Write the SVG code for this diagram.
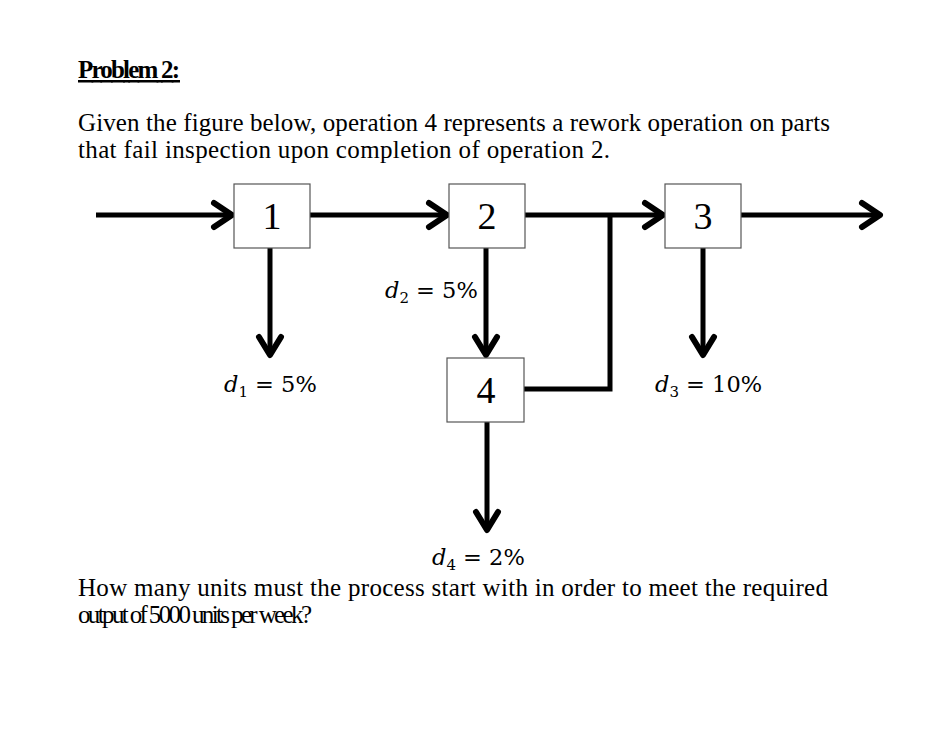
<svg xmlns="http://www.w3.org/2000/svg" width="928" height="749" viewBox="0 0 928 749">
<style>
.t{font-family:"Liberation Serif",serif;font-size:25px;fill:#000}
.n{font-family:"Liberation Serif",serif;font-size:38px;fill:#000;text-anchor:middle}
.m{font-family:"DejaVu Serif","Liberation Serif",serif;font-size:22.5px;fill:#000}
.mi{font-style:italic}
.box{fill:#fff;stroke:#555;stroke-width:1.2}
.c{fill:none;stroke:#000;stroke-width:5}
.h{fill:none;stroke:#000;stroke-width:6;stroke-linecap:round;stroke-linejoin:round}
</style>
<rect width="928" height="749" fill="#fff"/>
<text class="t" x="78" y="78" font-weight="bold" text-decoration="underline" textLength="102">Problem 2:</text>
<text class="t" x="78" y="131" textLength="752">Given the figure below, operation 4 represents a rework operation on parts</text>
<text class="t" x="78" y="158" textLength="532">that fail inspection upon completion of operation 2.</text>
<g id="connectors">
<path class="c" d="M96 215H231M310 215H446M525 215H662M741 215H880M610 215V389H524M270 248V354M486 248V354M703 248V354M487 422V529"/>
<path class="h" d="M214 203L232 215L214 227M429 203L447 215L429 227M645 203L663 215L645 227M862 203L880 215L862 227M259 337L270 355L281 337M475 337L486 355L497 337M692 337L703 355L714 337M476 512L487 530L498 512"/>
</g>
<g id="n1"><rect class="box" x="234" y="184" width="76" height="64"/><text class="n" x="272" y="229">1</text></g>
<g id="n2"><rect class="box" x="449" y="184" width="76" height="64"/><text class="n" x="487" y="229">2</text></g>
<g id="n3"><rect class="box" x="665" y="184" width="76" height="64"/><text class="n" x="703" y="229">3</text></g>
<g id="n4"><rect class="box" x="447" y="358" width="77" height="64"/><text class="n" x="486" y="403">4</text></g>
<text class="m" x="224" y="392"><tspan class="mi">d</tspan><tspan font-size="15" dy="5">1</tspan><tspan dy="-5"> = 5%</tspan></text>
<text class="m" x="385" y="298"><tspan class="mi">d</tspan><tspan font-size="15" dy="5">2</tspan><tspan dy="-5"> = 5%</tspan></text>
<text class="m" x="655" y="392"><tspan class="mi">d</tspan><tspan font-size="15" dy="5">3</tspan><tspan dy="-5"> = 10%</tspan></text>
<text class="m" x="432" y="565"><tspan class="mi">d</tspan><tspan font-size="15" dy="5">4</tspan><tspan dy="-5"> = 2%</tspan></text>
<text class="t" x="78" y="596" textLength="750">How many units must the process start with in order to meet the required</text>
<text class="t" x="78" y="623" textLength="234">output of 5000 units per week?</text>
</svg>
